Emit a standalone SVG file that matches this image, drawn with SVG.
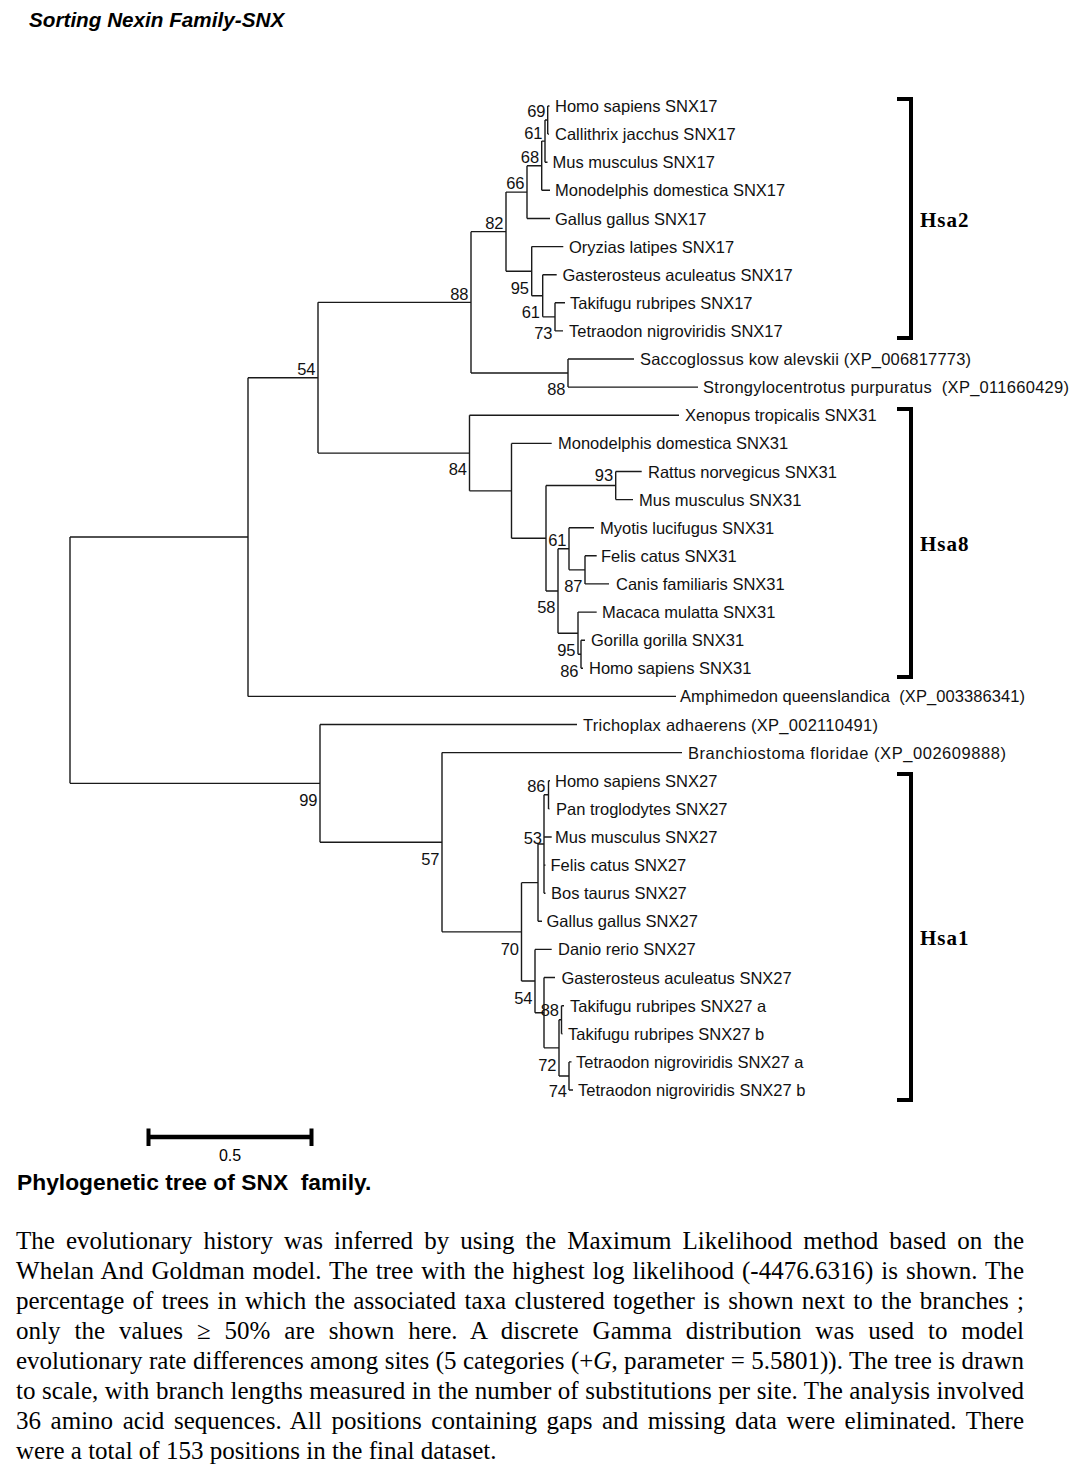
<svg xmlns="http://www.w3.org/2000/svg" width="1077" height="1477" viewBox="0 0 1077 1477">
<style>
.t{font-family:"Liberation Sans",Arial,sans-serif;font-size:16.5px;fill:#111}
.b{font-family:"Liberation Sans",Arial,sans-serif;font-size:16.5px;fill:#111;text-anchor:end}
.br{fill:none;stroke:#1a1a1a;stroke-width:1.4}
.bk{fill:none;stroke:#000;stroke-width:4}
.h{font-family:"Liberation Serif","Times New Roman",serif;font-size:21px;font-weight:bold;letter-spacing:1px;fill:#000}
.c{font-family:"Liberation Serif","Times New Roman",serif;font-size:25px;fill:#000}
</style>
<rect width="1077" height="1477" fill="#fff"/>
<text x="29" y="27" style="font-family:'Liberation Sans',Arial,sans-serif;font-size:20.7px;font-weight:bold;font-style:italic" fill="#000">Sorting Nexin Family-SNX</text>

<g id="connectors" class="br">
<path d="M70,537.05V783.35M70,537.05H248M70,783.35H320"/>
<path d="M248,377.7V696.4M248,377.7H318M248,696.4H676"/>
<path d="M318,302.35V453.1M318,302.35H471M318,453.1H469.5"/>
<path d="M471,231.65V373.05M471,231.65H506M471,373.05H568"/>
<path d="M506,192.1V271.2M506,192.1H527M506,271.2H531.7"/>
<path d="M527,165.7V218.5M527,165.7H541.7M527,218.5H550"/>
<path d="M541.7,141.1V190.3M541.7,141.1H545M541.7,190.3H550"/>
<path d="M545,120.05V162.2M545,120.05H547.7M545,162.2H547.5"/>
<path d="M547.7,106V134.1M547.7,106H549.5M547.7,134.1H549"/>
<path d="M531.7,246.6V295.8M531.7,246.6H563.3M531.7,295.8H542.7"/>
<path d="M542.7,274.7V316.85M542.7,274.7H556.7M542.7,316.85H555"/>
<path d="M555,302.8V330.9M555,302.8H565M555,330.9H563"/>
<path d="M568,359V387.1M568,359H634M568,387.1H698"/>
<path d="M469.5,415.3V490.85M469.5,415.3H679M469.5,490.85H511.5"/>
<path d="M511.5,443.4V538.3M511.5,443.4H551.7M511.5,538.3H546"/>
<path d="M546,485.55V591M546,485.55H615.7M546,591H558"/>
<path d="M615.7,471.5V499.6M615.7,471.5H641.7M615.7,499.6H633"/>
<path d="M558,548.8V633.2M558,548.8H569M558,633.2H578"/>
<path d="M569,527.7V569.85M569,527.7H594M569,569.85H585"/>
<path d="M585,555.8V583.9M585,555.8H596.7M585,583.9H609"/>
<path d="M578,612.1V654.25M578,612.1H596.7M578,654.25H581"/>
<path d="M581,640.2V668.3M581,640.2H585M581,668.3H583"/>
<path d="M320,724.5V842.2M320,724.5H577M320,842.2H442"/>
<path d="M442,752.6V931.85M442,752.6H682M442,931.85H521.5"/>
<path d="M521.5,882.65V981.05M521.5,882.65H538M521.5,981.05H535"/>
<path d="M538,844V921.3M538,844H544M538,921.3H542"/>
<path d="M544,794.8V893.2M544,794.8H548.5M544,837H551.7M544,865.1H545.5M544,893.2H545.5"/>
<path d="M548.5,780.7V808.9M548.5,780.7H550M548.5,808.9H549.5"/>
<path d="M535,949.4V1012.7M535,949.4H551.7M535,1012.7H544"/>
<path d="M544,977.5V1047.85M544,977.5H555M544,1047.85H559"/>
<path d="M559,1019.75V1075.95M559,1019.75H561.5M559,1075.95H569"/>
<path d="M561.5,1005.7V1033.8M561.5,1005.7H564M561.5,1033.8H562.5"/>
<path d="M569,1061.9V1090M569,1061.9H571.5M569,1090H573"/>
</g>

<g id="support-values">
<text class="b" x="545.5" y="117">69</text>
<text class="b" x="542.5" y="138.5">61</text>
<text class="b" x="539.2" y="162.5">68</text>
<text class="b" x="524.5" y="189">66</text>
<text class="b" x="503.5" y="228.5">82</text>
<text class="b" x="468.5" y="299.5">88</text>
<text class="b" x="529" y="293.5">95</text>
<text class="b" x="540" y="317.5">61</text>
<text class="b" x="552.5" y="338.5">73</text>
<text class="b" x="565.5" y="395">88</text>
<text class="b" x="315.5" y="374.5">54</text>
<text class="b" x="467" y="475">84</text>
<text class="b" x="613.2" y="481">93</text>
<text class="b" x="566.5" y="545.5">61</text>
<text class="b" x="582.5" y="592">87</text>
<text class="b" x="555.5" y="613">58</text>
<text class="b" x="575.5" y="655.5">95</text>
<text class="b" x="578.5" y="676.5">86</text>
<text class="b" x="317.5" y="805.5">99</text>
<text class="b" x="439.5" y="864.5">57</text>
<text class="b" x="545.5" y="791.5">86</text>
<text class="b" x="542" y="843.5">53</text>
<text class="b" x="519" y="954.5">70</text>
<text class="b" x="532.5" y="1003.5">54</text>
<text class="b" x="559" y="1015.5">88</text>
<text class="b" x="556.5" y="1070.5">72</text>
<text class="b" x="567" y="1097">74</text>
</g>

<g id="leaf-1"><text class="t" x="555" y="112">Homo sapiens SNX17</text></g>
<g id="leaf-2"><text class="t" x="555" y="140.1">Callithrix jacchus SNX17</text></g>
<g id="leaf-3"><text class="t" x="552.5" y="168.2">Mus musculus SNX17</text></g>
<g id="leaf-4"><text class="t" x="555" y="196.3">Monodelphis domestica SNX17</text></g>
<g id="leaf-5"><text class="t" x="555" y="224.5">Gallus gallus SNX17</text></g>
<g id="leaf-6"><text class="t" x="569" y="252.6">Oryzias latipes SNX17</text></g>
<g id="leaf-7"><text class="t" x="562.5" y="280.7">Gasterosteus aculeatus SNX17</text></g>
<g id="leaf-8"><text class="t" x="570" y="308.8">Takifugu rubripes SNX17</text></g>
<g id="leaf-9"><text class="t" x="569" y="336.9">Tetraodon nigroviridis SNX17</text></g>
<g id="leaf-10"><text class="t" x="640" y="365" textLength="331" lengthAdjust="spacing">Saccoglossus kow alevskii (XP_006817773)</text></g>
<g id="leaf-11"><text class="t" x="703" y="393.1" xml:space="preserve" textLength="366" lengthAdjust="spacing">Strongylocentrotus purpuratus  (XP_011660429)</text></g>
<g id="leaf-12"><text class="t" x="685" y="421.3">Xenopus tropicalis SNX31</text></g>
<g id="leaf-13"><text class="t" x="558" y="449.4">Monodelphis domestica SNX31</text></g>
<g id="leaf-14"><text class="t" x="648" y="477.5">Rattus norvegicus SNX31</text></g>
<g id="leaf-15"><text class="t" x="639" y="505.6">Mus musculus SNX31</text></g>
<g id="leaf-16"><text class="t" x="600" y="533.7">Myotis lucifugus SNX31</text></g>
<g id="leaf-17"><text class="t" x="601" y="561.8">Felis catus SNX31</text></g>
<g id="leaf-18"><text class="t" x="616" y="589.9">Canis familiaris SNX31</text></g>
<g id="leaf-19"><text class="t" x="602" y="618.1">Macaca mulatta SNX31</text></g>
<g id="leaf-20"><text class="t" x="591" y="646.2">Gorilla gorilla SNX31</text></g>
<g id="leaf-21"><text class="t" x="589" y="674.3">Homo sapiens SNX31</text></g>
<g id="leaf-22"><text class="t" x="680" y="702.4" xml:space="preserve" textLength="345" lengthAdjust="spacing">Amphimedon queenslandica  (XP_003386341)</text></g>
<g id="leaf-23"><text class="t" x="583" y="730.5" textLength="295" lengthAdjust="spacing">Trichoplax adhaerens (XP_002110491)</text></g>
<g id="leaf-24"><text class="t" x="688" y="758.6" textLength="318" lengthAdjust="spacing">Branchiostoma floridae (XP_002609888)</text></g>
<g id="leaf-25"><text class="t" x="555" y="786.7">Homo sapiens SNX27</text></g>
<g id="leaf-26"><text class="t" x="556" y="814.9">Pan troglodytes SNX27</text></g>
<g id="leaf-27"><text class="t" x="555" y="843">Mus musculus SNX27</text></g>
<g id="leaf-28"><text class="t" x="550.5" y="871.1">Felis catus SNX27</text></g>
<g id="leaf-29"><text class="t" x="551" y="899.2">Bos taurus SNX27</text></g>
<g id="leaf-30"><text class="t" x="546.5" y="927.3">Gallus gallus SNX27</text></g>
<g id="leaf-31"><text class="t" x="558" y="955.4">Danio rerio SNX27</text></g>
<g id="leaf-32"><text class="t" x="561.5" y="983.5">Gasterosteus aculeatus SNX27</text></g>
<g id="leaf-33"><text class="t" x="570" y="1011.7">Takifugu rubripes SNX27 a</text></g>
<g id="leaf-34"><text class="t" x="568" y="1039.8">Takifugu rubripes SNX27 b</text></g>
<g id="leaf-35"><text class="t" x="576" y="1067.9">Tetraodon nigroviridis SNX27 a</text></g>
<g id="leaf-36"><text class="t" x="578" y="1096">Tetraodon nigroviridis SNX27 b</text></g>

<g id="group-Hsa2"><path class="bk" d="M897,99H911V338H897"/><text class="h" x="920" y="227">Hsa2</text></g>
<g id="group-Hsa8"><path class="bk" d="M897,409H911V677H897"/><text class="h" x="920" y="551">Hsa8</text></g>
<g id="group-Hsa1"><path class="bk" d="M897,774H911V1100H897"/><text class="h" x="920" y="945">Hsa1</text></g>

<g id="scale-bar">
<path d="M147,1137H313" stroke="#000" stroke-width="4.5" fill="none"/>
<path d="M148.5,1128.5V1146M311.5,1128.5V1146" stroke="#000" stroke-width="4" fill="none"/>
<text x="230" y="1161" style="font-family:'Liberation Sans',Arial,sans-serif;font-size:16px;text-anchor:middle" fill="#000">0.5</text>
</g>

<text x="17" y="1190" xml:space="preserve" style="font-family:'Liberation Sans',Arial,sans-serif;font-size:22.8px;font-weight:bold" fill="#000">Phylogenetic tree of SNX  family.</text>

<g id="caption">
<text class="c" x="16" y="1249" word-spacing="4.84" textLength="1008" lengthAdjust="spacing">The evolutionary history was inferred by using the Maximum Likelihood method based on the</text>
<text class="c" x="16" y="1279" word-spacing="1.62" textLength="1008" lengthAdjust="spacing">Whelan And Goldman model. The tree with the highest log likelihood (-4476.6316) is shown. The</text>
<text class="c" x="16" y="1309" word-spacing="2.08" textLength="1008" lengthAdjust="spacing">percentage of trees in which the associated taxa clustered together is shown next to the branches ;</text>
<text class="c" x="16" y="1339" word-spacing="7.59" textLength="1008" lengthAdjust="spacing">only the values ≥ 50% are shown here. A discrete Gamma distribution was used to model</text>
<text class="c" x="16" y="1369" word-spacing="0.21" textLength="1008" lengthAdjust="spacing">evolutionary rate differences among sites (5 categories (+<tspan font-style="italic">G</tspan>, parameter = 5.5801)). The tree is drawn</text>
<text class="c" x="16" y="1399" word-spacing="0.31" textLength="1008" lengthAdjust="spacing">to scale, with branch lengths measured in the number of substitutions per site. The analysis involved</text>
<text class="c" x="16" y="1429" word-spacing="3.28" textLength="1008" lengthAdjust="spacing">36 amino acid sequences. All positions containing gaps and missing data were eliminated. There</text>
<text class="c" x="16" y="1459">were a total of 153 positions in the final dataset.</text>
</g>
</svg>
